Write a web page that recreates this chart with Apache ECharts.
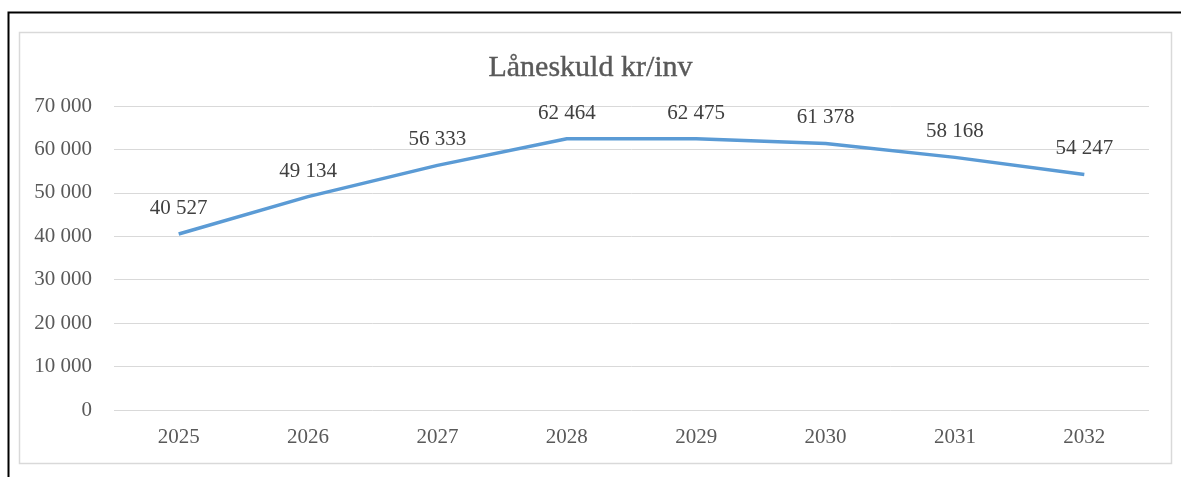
<!DOCTYPE html>
<html><head><meta charset="utf-8">
<script src="https://cdn.jsdelivr.net/npm/echarts@6/dist/echarts.min.js"></script>
<style>html,body{margin:0;padding:0;background:#fff}#c{width:1181px;height:477px}</style>
</head><body><div id="c"></div>
<script>
const title = 'Låneskuld kr/inv';
const years = ['2025','2026','2027','2028','2029','2030','2031','2032'];
const values = [40527, 49134, 56333, 62464, 62475, 61378, 58168, 54247];
const fmt = v => String(v).replace(/\B(?=(\d{3})+(?!\d))/g, ' ');
const font = '"Liberation Serif", "DejaVu Serif", serif';
const chart = echarts.init(document.getElementById('c'));
chart.setOption({
  animation: false,
  backgroundColor: '#fff',
  title: { text: title, left: 'center', top: 48, textStyle: { fontFamily: font, fontSize: 30, fontWeight: 'normal', color: '#595959', textBorderColor: '#595959', textBorderWidth: 0.4 } },
  graphic: [
    { type: 'rect', shape: { x: 8.5, y: 12.5, width: 1200, height: 500 }, style: { fill: 'none', stroke: '#000', lineWidth: 2 }, silent: true },
    { type: 'rect', shape: { x: 19.5, y: 32.5, width: 1152, height: 431 }, style: { fill: 'none', stroke: '#d9d9d9', lineWidth: 1.5 }, silent: true }
  ],
  grid: { left: 114, right: 32, top: 106, bottom: 67 },
  xAxis: {
    type: 'category', data: years, boundaryGap: true,
    axisLine: { show: false }, axisTick: { show: false },
    axisLabel: { fontFamily: font, fontSize: 21, color: '#595959', margin: 17 }
  },
  yAxis: {
    type: 'value', min: 0, max: 70000, interval: 10000,
    axisLine: { show: false }, axisTick: { show: false },
    splitLine: { lineStyle: { color: '#d9d9d9', width: 1 } },
    axisLabel: { fontFamily: font, fontSize: 21, color: '#595959', margin: 22, formatter: v => fmt(v) }
  },
  series: [{
    type: 'line', data: values, symbol: 'circle', symbolSize: 2, showSymbol: true,
    itemStyle: { color: 'transparent', borderColor: 'transparent', borderWidth: 0 },
    lineStyle: { color: '#5B9BD5', width: 3.5 },
    label: { show: true, position: 'top', distance: 14, fontFamily: font, fontSize: 21, color: '#404040', formatter: p => fmt(p.value) }
  }]
});
</script></body></html>
